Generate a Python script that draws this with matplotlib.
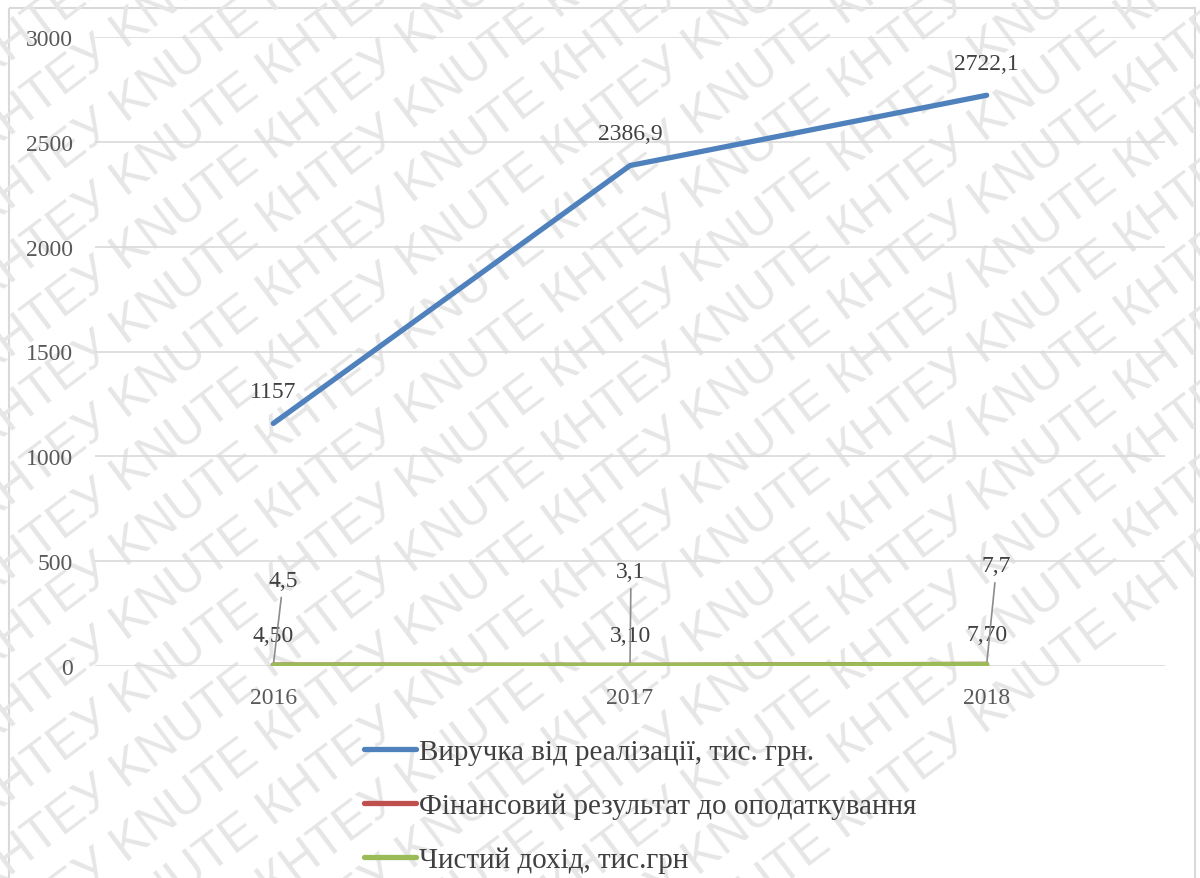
import matplotlib
matplotlib.use('Agg')
import matplotlib.pyplot as plt
import matplotlib.patches as mpatches
import numpy as np

# data
years = ['2016', '2017', '2018']
revenue = [1157, 2386.9, 2722.1]
pretax = [4.5, 3.1, 7.7]
net_income = [4.50, 3.10, 7.70]
revenue_labels = ['1157', '2386,9', '2722,1']
pretax_labels = ['4,5', '3,1', '7,7']
net_labels = ['4,50', '3,10', '7,70']
series_names = ['Виручка від реалізації, тис. грн.',
                'Фінансовий результат до оподаткування',
                'Чистий дохід, тис.грн']
y_ticks = [0, 500, 1000, 1500, 2000, 2500, 3000]

plt.rcParams['font.family'] = ['Liberation Serif', 'DejaVu Serif']

fig = plt.figure(figsize=(12, 8.79), dpi=100)

# background axes for the watermark, in pixel coords
bg = fig.add_axes([0, 0, 1, 1], zorder=0)
bg.set_xlim(0, 1200)
bg.set_ylim(879, 0)
bg.axis('off')
wm = ('КНТЕУ KNUTE ' * 7).strip()
for k in range(-12, 24):
    bg.text(-300, k * 74, wm, fontsize=36, color='#e6e6e6', family='Liberation Sans',
            rotation=37, rotation_mode='anchor', ha='left', va='baseline', clip_on=True)

# outer chart border
bg.add_patch(mpatches.Rectangle((9, 9), 1186, 880, fill=False,
                                edgecolor='#d9d9d9', linewidth=1.5))

ax = fig.add_axes([95/1200, 1 - 667/879, 1070/1200, 629/879], zorder=1)
ax.set_facecolor('none')
x = np.arange(len(years))

ax.plot(x, revenue, color='#4F81BD', linewidth=3.8, solid_capstyle='round', label=series_names[0], zorder=3)
ax.plot(x, pretax, color='#C0504D', linewidth=3.8, solid_capstyle='round', label=series_names[1], zorder=3)
ax.plot(x, net_income, color='#9BBB59', linewidth=3.8, solid_capstyle='round', label=series_names[2], zorder=4)

ax.set_xlim(-0.5, 2.5)
ax.set_ylim(0, 3000)
ax.set_yticks(y_ticks)
ax.set_xticks(x)
ax.set_xticklabels(years)
ax.grid(axis='y', color='#d9d9d9', linewidth=1.2)
ax.set_axisbelow(True)
for s in ax.spines.values():
    s.set_visible(False)
ax.tick_params(axis='both', length=0, labelsize=17, colors='#595959')
ax.tick_params(axis='y', pad=16)
ax.tick_params(axis='x', pad=15)

# data labels
for i in range(len(years)):
    ax.annotate(revenue_labels[i], (x[i], revenue[i]), xytext=(0, 32), textcoords='offset pixels',
                ha='center', va='center', fontsize=17, color='#404040')
    ax.annotate(net_labels[i], (x[i], net_income[i]), xytext=(0, 30), textcoords='offset pixels',
                ha='center', va='center', fontsize=17, color='#404040')

red_offsets = [(10, 85), (1, 94), (10, 99)]
for i in range(len(years)):
    ax.annotate(pretax_labels[i], (x[i], pretax[i]), xytext=red_offsets[i], textcoords='offset pixels',
                ha='center', va='center', fontsize=17, color='#404040',
                arrowprops=dict(arrowstyle='-', color='#8c8c8c', linewidth=1.2, shrinkA=3, shrinkB=0))

leg = fig.legend(loc='upper left', bbox_to_anchor=(352/1200, 1 - 728/879), frameon=False,
                 fontsize=21, handlelength=1.8, handletextpad=0.1, labelspacing=0.95,
                 labelcolor='#404040', borderaxespad=0)

fig.savefig('out.png', dpi=100)
